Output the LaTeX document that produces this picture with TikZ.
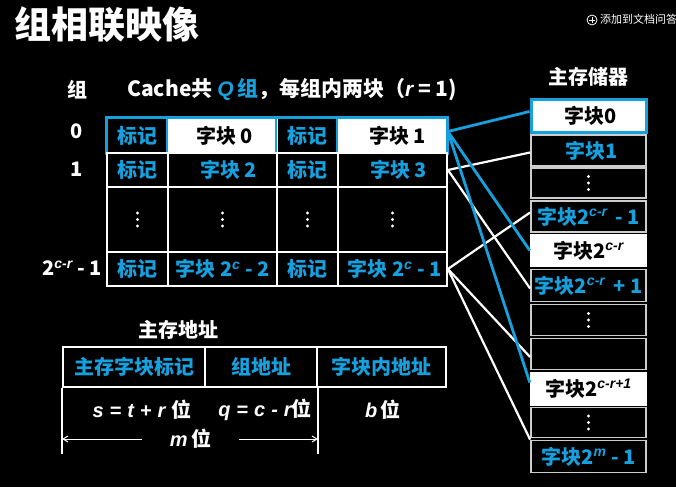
\documentclass[tikz,border=0pt]{standalone}
\usepackage{fontspec}
\setmainfont{Noto Sans CJK SC}
\newfontfamily\itf{Liberation Sans}
\usetikzlibrary{arrows.meta}
\definecolor{cb}{RGB}{22,160,222}
\definecolor{gb}{RGB}{205,205,205}
\newcommand{\mi}[1]{{\itf\bfseries\itshape #1}}
\newcommand{\exps}[1]{\textsuperscript{\mi{#1}}}
\newcommand{\wsp}{\hspace{6pt}}
\begin{document}
\begin{tikzpicture}[x=1pt,y=-1pt,
  every node/.style={font=\bfseries\fontsize{20}{24}\selectfont, text=white, inner sep=0pt},
  cc/.style={draw=white, line width=1.8pt, fill=black},
  tagw/.style={minimum width=61pt},
  blkw/.style={minimum width=109pt},
  mc/.style={draw=gb, line width=1.8pt, fill=black, minimum width=115pt},
  bt/.style={text=cb},
  wc/.style={fill=white, text=black},
  bl/.style={draw=cb, line width=2.8pt},
  wl/.style={draw=white, line width=2.2pt}
]
\useasboundingbox (0,0) rectangle (676,487);
\fill[black] (0,0) rectangle (676,487);
\clip (0,0) rectangle (676,487);

% title and top-right hint
\node[anchor=west, font=\bfseries\fontsize{37}{42}\selectfont] (title) at (14,25) {组相联映像};
\draw[white, line width=0.8pt] (592,20) circle (5);
\draw[white, line width=0.8pt] (589,20) -- (595,20) (592,17) -- (592,23);
\node[anchor=west, font=\fontsize{11}{13}\selectfont] (add) at (600,19) {添加到文档问答};

% headers
\node (hg) at (77,90) {组};
\node[anchor=west, font=\bfseries\fontsize{21}{24}\selectfont] (hdr) at (127,90) {Cache共 {\color{cb}\mi{Q}\,组}，每组内两块（\mi{r} = 1)};
\node (g0) at (77,131) {0};
\node (g1) at (77,169) {1};
\node (g3) at (72,268) {2\exps{c-r} - 1};

% cache rows
\node[cc, tagw, minimum height=35pt, bt] (c01) at (137.5,135.5) {标记};
\node[cc, blkw, minimum height=35pt, wc] (c02) at (222.5,135.5) {\hspace*{4pt}字块 0};
\node[cc, tagw, minimum height=35pt, bt] (c03) at (307.5,135.5) {标记};
\node[cc, blkw, minimum height=35pt, wc] (c04) at (392.5,135.5) {\hspace*{10pt}字块 1};
\draw[cb, line width=1.8pt]
  (c02.north west) -- (c02.south west) (c03.north west) -- (c03.south west)
  (c04.north west) -- (c04.south west);
\draw[cb, line width=3pt] (c01.north west) rectangle (c04.south east);

\node[cc, tagw, minimum height=34pt, bt] (c11) at (137.5,170) {标记};
\node[cc, blkw, minimum height=34pt, bt] (c12) at (222.5,170) {\hspace*{12pt}字块 2};
\node[cc, tagw, minimum height=34pt, bt] (c13) at (307.5,170) {标记};
\node[cc, blkw, minimum height=34pt, bt] (c14) at (392.5,170) {\hspace*{12pt}字块 3};

\node[cc, tagw, minimum height=65pt] (c21) at (137.5,219.5) {};
\node[cc, blkw, minimum height=65pt] (c22) at (222.5,219.5) {};
\node[cc, tagw, minimum height=65pt] (c23) at (307.5,219.5) {};
\node[cc, blkw, minimum height=65pt] (c24) at (392.5,219.5) {};

\node[cc, tagw, minimum height=34pt, bt] (c31) at (137.5,269) {标记};
\node[cc, blkw, minimum height=34pt, bt] (c32) at (222.5,269) {字块 2\exps{c} - 2};
\node[cc, tagw, minimum height=34pt, bt] (c33) at (307.5,269) {标记};
\node[cc, blkw, minimum height=34pt, bt] (c34) at (392.5,269) {\hspace*{4pt}字块 2\exps{c} - 1};

% main memory
\node (mt) at (588,77) {主存储器};
\node[mc, minimum height=33pt, wc, draw=cb, line width=3pt] (m0) at (588.5,115.5) {\hspace*{4pt}字块0};
\node[mc, minimum height=31pt, bt] (m1) at (588.5,150.5) {\hspace*{6pt}字块1};
\node[mc, minimum height=30pt] (m2) at (588.5,183) {};
\node[mc, minimum height=31pt, bt] (m3) at (588.5,216.5) {字块2\exps{c-r}\, - 1};
\node[fill=white, text=black, minimum width=117pt, minimum height=33pt] (m4) at (588.5,250.5) {字块2\exps{c-r}};
\node[mc, minimum height=32pt, bt] (m5) at (588.5,285.5) {字块2\exps{c-r}\, + 1};
\node[mc, minimum height=31pt] (m6) at (588.5,320) {};
\node[mc, minimum height=31pt] (m7) at (588.5,354) {};
\node[fill=white, text=black, minimum width=117pt, minimum height=34pt] (m8) at (588.5,388.5) {字块2\exps{c-r+1}};
\node[mc, minimum height=30pt] (m9) at (588.5,422.5) {};
\node[mc, minimum height=32pt, bt] (m10) at (588.5,456.5) {字块2\exps{m} - 1};

% vertical ellipses
\foreach \n in {c21,c22,c23,c24,m2,m6,m9}
  \foreach \d in {-6.5,0,6.5}
    \fill[white] ([yshift=\d pt]\n.center) circle (1.6);

% connectors
\draw[wl] (c14.east) -- ([yshift=-2pt]m1.west);
\draw[wl] (c14.east) -- ([yshift=-3pt]m5.west);
\draw[wl] (c34.east) -- ([yshift=4pt]m3.west);
\draw[wl] (c34.east) -- ([yshift=-3pt]m7.west);
\draw[wl] (c34.east) -- (m10.north west);
\draw[bl] ([yshift=4pt]c04.east) -- ([yshift=4pt]m0.west);
\draw[bl] ([yshift=4pt]c04.east) -- (m4.west);
\draw[bl] ([yshift=4pt]c04.east) -- ([yshift=6pt]m8.west);

% main memory address
\node (at) at (178,330) {主存地址};
\node[cc, minimum width=142pt, minimum height=40pt, bt] (a1) at (134,367) {主存字块标记};
\node[cc, minimum width=112pt, minimum height=40pt, bt] (a2) at (261,367) {组地址};
\node[cc, minimum width=129pt, minimum height=40pt, bt] (a3) at (381.5,367) {字块内地址};
\draw[white, line width=1.5pt] (a1.south west) -- ++(0,66) coordinate (lb);
\draw[white, line width=1.5pt] (a2.south east) -- ++(0,66) coordinate (rb);
\node[minimum width=97pt] (mw) at (190.5,439) {\mi{m}\,位};
\draw[white, line width=1pt, -{Straight Barb[length=5pt,width=6pt]}] (mw.west) -- (lb |- mw.west);
\draw[white, line width=1pt, -{Straight Barb[length=5pt,width=6pt]}] (mw.east) -- (rb |- mw.east);
\node (sl) at (142,410) {\mi{s\wsp=\wsp t\wsp+\wsp r}\wsp 位};
\node (ql) at (265,410) {\mi{q\wsp=\wsp c\wsp-\wsp r}位};
\node (bl2) at (383,410) {\mi{b}\,位};
\end{tikzpicture}
\end{document}
